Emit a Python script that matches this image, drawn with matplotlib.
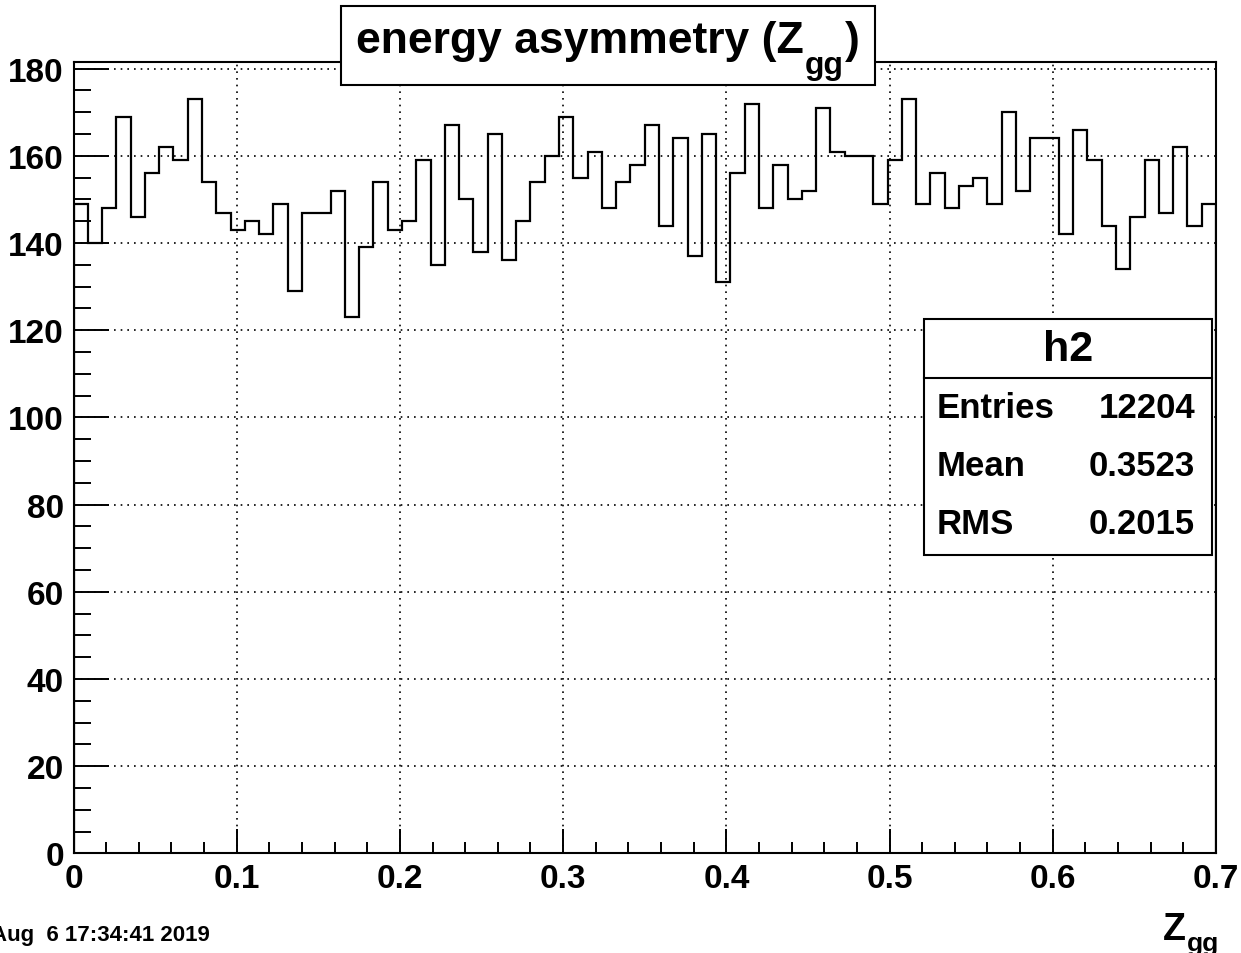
import numpy as np
import matplotlib
matplotlib.use("Agg")
import matplotlib.pyplot as plt
from matplotlib.patches import Rectangle
from matplotlib.ticker import MultipleLocator

plt.rcParams['font.family'] = ['Liberation Sans', 'DejaVu Sans']
plt.rcParams['font.weight'] = 'bold'

# histogram h2: 80 bins over [0, 0.7]
x_min, x_max, n_bins = 0.0, 0.7, 80
counts = [149, 140, 148, 169, 146, 156, 162, 159, 173, 154,
          147, 143, 145, 142, 149, 129, 147, 147, 152, 123,
          139, 154, 143, 145, 159, 135, 167, 150, 138, 165,
          136, 145, 154, 160, 169, 155, 161, 148, 154, 158,
          167, 144, 164, 137, 165, 131, 156, 172, 148, 158,
          150, 152, 171, 161, 160, 160, 149, 159, 173, 149,
          156, 148, 153, 155, 149, 170, 152, 164, 164, 142,
          166, 159, 144, 134, 146, 159, 147, 162, 144, 149]

# title and axis title as (text, is_subscript) pieces, ROOT style
title_parts = [('energy asymmetry (Z', False), ('gg', True), (')', False)]
xlabel_parts = [('Z', False), ('gg', True)]
stats_name = 'h2'
stats_rows = [('Entries', '12204'), ('Mean', '0.3523'), ('RMS', '0.2015')]
date_text = 'Aug  6 17:34:41 2019'

W, H = 1241, 954


def fx(px):
    return px / W


def fy(py):
    return 1 - py / H


fig = plt.figure(figsize=(W / 100, H / 100), dpi=100)
renderer = fig.canvas.get_renderer()
ax = fig.add_axes([fx(73.5), fy(854.3), fx(1216) - fx(73.5), fy(62.5) - fy(854.3)])

edges = np.linspace(x_min, x_max, n_bins + 1)
ax.stairs(counts, edges, color='black', linewidth=1.6)

ax.set_xlim(x_min, x_max)
ax.set_ylim(0, 1.05 * max(counts))

ax.xaxis.set_major_locator(MultipleLocator(0.1))
ax.xaxis.set_minor_locator(MultipleLocator(0.02))
ax.yaxis.set_major_locator(MultipleLocator(20))
ax.yaxis.set_minor_locator(MultipleLocator(5))
ax.set_xticks(np.arange(0, 0.71, 0.1))
ax.set_xticklabels(['0', '0.1', '0.2', '0.3', '0.4', '0.5', '0.6', '0.7'])

ax.grid(True, which='major', color='black', linestyle=(0, (1, 3)), linewidth=1.2)
ax.tick_params(axis='both', which='both', direction='in', top=False, right=False,
               labelsize=24, width=1.4)
ax.tick_params(axis='y', which='major', length=25, pad=7)
ax.tick_params(axis='y', which='minor', length=12)
ax.tick_params(axis='x', which='major', length=17, pad=7)
ax.tick_params(axis='x', which='minor', length=8)
for lab in ax.get_xticklabels() + ax.get_yticklabels():
    lab.set_fontweight('bold')
for sp in ax.spines.values():
    sp.set_linewidth(1.5)


def draw_parts(parts, x0, base, size, sub_size, sub_drop, zorder=6):
    # lay the pieces side by side, subscripts smaller and lower
    x = x0
    for s, is_sub in parts:
        y = base + sub_drop if is_sub else base
        t = fig.text(fx(x), fy(y), s, ha='left', va='baseline',
                     fontsize=sub_size if is_sub else size, zorder=zorder)
        x = t.get_window_extent(renderer).x1 + 1


# x axis title
draw_parts(xlabel_parts, 1163, 940, 27, 19, 11)

# title box
fig.patches.append(Rectangle((fx(341), fy(86)), fx(875) - fx(341), fy(7) - fy(86),
                             transform=fig.transFigure, facecolor='white',
                             edgecolor='black', linewidth=1.5, zorder=5))
draw_parts(title_parts, 356, 53, 32, 23, 21)

# stats box
fig.patches.append(Rectangle((fx(924), fy(556)), fx(1212) - fx(924), fy(320) - fy(556),
                             transform=fig.transFigure, facecolor='white',
                             edgecolor='black', linewidth=1.5, zorder=5))
fig.lines.append(plt.Line2D([fx(924), fx(1212)], [fy(379), fy(379)],
                            transform=fig.transFigure, color='black', linewidth=1.5, zorder=6))
fig.text(fx(1068), fy(350), stats_name, ha='center', va='center', fontsize=31, zorder=6)
for i, (name, val) in enumerate(stats_rows):
    y = fy(409 + 58 * i)
    fig.text(fx(937), y, name, ha='left', va='center', fontsize=25, zorder=6)
    fig.text(fx(1195), y, val, ha='right', va='center', fontsize=25, zorder=6)

# date stamp, cut at the left edge
fig.text(fx(210), fy(936), date_text, ha='right', va='center', fontsize=16)

fig.savefig('out.png', dpi=100)
